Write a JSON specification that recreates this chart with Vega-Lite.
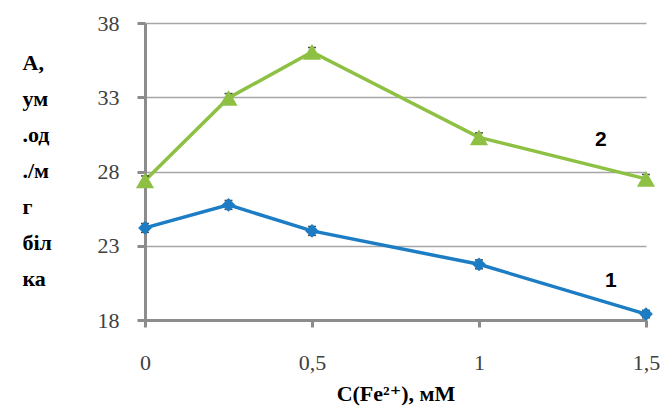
{
  "$schema": "https://vega.github.io/schema/vega-lite/v6.json",
  "width": 501,
  "height": 297,
  "autosize": {"type": "none"},
  "padding": {"left": 145, "top": 23, "right": 16, "bottom": 97},
  "background": "white",
  "config": {
    "view": {"stroke": null},
    "axis": {
      "labelFont": "'Liberation Serif', 'Times New Roman', 'DejaVu Serif', serif",
      "labelFontSize": 22,
      "labelColor": "#404040",
      "titleFont": "'Liberation Serif', 'Times New Roman', 'DejaVu Serif', serif",
      "titleFontSize": 22,
      "titleFontWeight": "bold",
      "titleColor": "#000000",
      "domainColor": "#8c8c8c",
      "domainWidth": 3,
      "tickColor": "#8c8c8c",
      "tickWidth": 3
    }
  },
  "datasets": {
    "pts": [
      {"c": 0, "a": 24.2, "series": "1", "lo": 23.9, "hi": 24.5},
      {"c": 0.25, "a": 25.75, "series": "1", "lo": 25.45, "hi": 26.05},
      {"c": 0.5, "a": 24.0, "series": "1", "lo": 23.7, "hi": 24.3},
      {"c": 1, "a": 21.75, "series": "1", "lo": 21.45, "hi": 22.05},
      {"c": 1.5, "a": 18.4, "series": "1", "lo": 18.15, "hi": 18.65},
      {"c": 0, "a": 27.4, "series": "2", "lo": 27.1, "hi": 27.7},
      {"c": 0.25, "a": 32.95, "series": "2", "lo": 32.65, "hi": 33.25},
      {"c": 0.5, "a": 36.05, "series": "2", "lo": 35.75, "hi": 36.35},
      {"c": 1, "a": 30.3, "series": "2", "lo": 30.0, "hi": 30.6},
      {"c": 1.5, "a": 27.5, "series": "2", "lo": 27.2, "hi": 27.8}
    ],
    "labels": [
      {"c": 1.365, "a": 30.1, "label": "2"},
      {"c": 1.395, "a": 20.6, "label": "1"}
    ]
  },
  "encoding": {
    "x": {
      "field": "c", "type": "quantitative",
      "scale": {"domain": [0, 1.5], "nice": false, "zero": false},
      "axis": {
        "values": [0, 0.5, 1, 1.5],
        "labelExpr": "replace(toString(datum.value), '.', ',')",
        "grid": false,
        "tickSize": 7,
        "labelPadding": 25,
        "labelFlush": false,
        "title": "C(Fe²⁺), мМ",
        "titlePadding": 10
      }
    },
    "y": {
      "field": "a", "type": "quantitative",
      "scale": {"domain": [18, 38], "nice": false, "zero": false},
      "axis": {
        "values": [18, 23, 28, 33, 38],
        "grid": true,
        "gridColor": "#a6a6a6",
        "gridWidth": 1.5,
        "tickSize": 8,
        "labelPadding": 18,
        "title": ["А,", "ум", ".од", "./м", "г", "біл", "ка"],
        "titleAngle": 0,
        "titleAlign": "left",
        "titleBaseline": "top",
        "titleX": -123,
        "titleY": 29,
        "titleLineHeight": 36
      }
    }
  },
  "layer": [
    {
      "data": {"name": "pts"},
      "mark": {"type": "line", "strokeWidth": 3.5},
      "encoding": {
        "color": {"field": "series", "type": "nominal", "scale": {"domain": ["1", "2"], "range": ["#1C7DC4", "#8DC043"]}, "legend": null}
      }
    },
    {
      "data": {"name": "pts"},
      "mark": {"type": "errorbar", "ticks": {"size": 8, "color": "#000000", "thickness": 1.5}, "rule": {"color": "#000000", "strokeWidth": 1}},
      "encoding": {
        "y": {"field": "lo", "type": "quantitative"},
        "y2": {"field": "hi"}
      }
    },
    {
      "data": {"name": "pts"},
      "mark": {"type": "point", "filled": true, "opacity": 1, "strokeWidth": 0},
      "encoding": {
        "fill": {"field": "series", "type": "nominal", "scale": {"domain": ["1", "2"], "range": ["#1C7DC4", "#8DC043"]}, "legend": null},
        "shape": {"field": "series", "type": "nominal", "scale": {"domain": ["1", "2"], "range": ["diamond", "triangle-up"]}, "legend": null},
        "size": {"field": "series", "type": "nominal", "scale": {"domain": ["1", "2"], "range": [190, 330]}, "legend": null}
      }
    },
    {
      "data": {"name": "labels"},
      "mark": {"type": "text", "font": "'Liberation Sans', Arial, sans-serif", "fontWeight": "bold", "fontSize": 21, "color": "#000000"},
      "encoding": {
        "text": {"field": "label"}
      }
    }
  ]
}
